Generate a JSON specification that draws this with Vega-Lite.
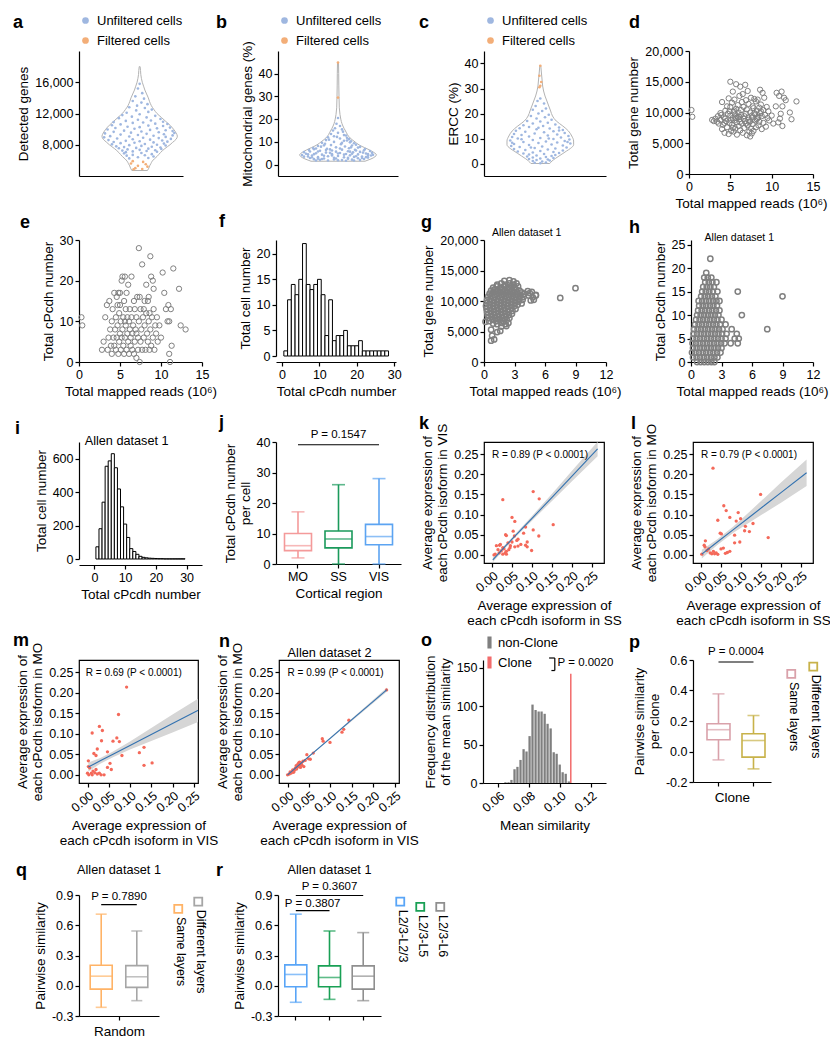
{
"$schema": "https://vega.github.io/schema/vega-lite/v6.json",
"padding": {"left": 12, "top": 14, "right": 0, "bottom": 0},
"background": "white",
"spacing": 3,
"resolve": {"scale": {"color": "independent", "stroke": "independent", "fill": "independent"}, "legend": {"color": "independent", "stroke": "independent"}},
"config": {
 "font": "Liberation Sans",
 "view": {"stroke": null},
 "locale": {"number": {"decimal": ".", "thousands": ",", "grouping": [3], "currency": ["$", ""], "minus": "-"}},
 "axis": {"grid": false, "domainColor": "#000", "tickColor": "#000", "labelColor": "#000", "titleColor": "#000", "labelFontSize": 12.5, "titleFontSize": 13.5, "titleFontWeight": "normal", "tickSize": 4, "domainWidth": 1.2, "tickWidth": 1.2, "labelPadding": 2, "titlePadding": 4, "titleLineHeight": 15, "labelFont": "Liberation Sans", "titleFont": "Liberation Sans", "labelFlush": false, "labelOverlap": false},
 "legend": {"labelFont": "Liberation Sans", "labelFontSize": 13, "labelColor": "#000", "padding": 0},
 "title": {"font": "Liberation Sans", "fontSize": 18, "fontWeight": "bold", "anchor": "start", "frame": "group", "offset": 0, "color": "#000"},
 "text": {"font": "Liberation Sans", "color": "#000"}
},
"datasets": {
 "av": [{"y":4700,"l":-9,"r":9},{"y":5000,"l":-10.5,"r":10.5},{"y":5300,"l":-11.5,"r":11.5},{"y":5600,"l":-13,"r":13},{"y":5900,"l":-14.5,"r":14.5},{"y":6200,"l":-17,"r":17},{"y":6500,"l":-20,"r":20},{"y":7000,"l":-24,"r":24},{"y":7500,"l":-29,"r":29},{"y":8000,"l":-35,"r":35},{"y":8300,"l":-38,"r":38},{"y":8700,"l":-42,"r":42},{"y":9100,"l":-43.5,"r":43.5},{"y":9500,"l":-42,"r":42},{"y":10000,"l":-39,"r":39},{"y":10500,"l":-35,"r":35},{"y":11000,"l":-30,"r":30},{"y":11500,"l":-25,"r":25},{"y":12000,"l":-20,"r":20},{"y":12500,"l":-16.5,"r":16.5},{"y":13000,"l":-13.5,"r":13.5},{"y":13500,"l":-11.5,"r":11.5},{"y":14000,"l":-10,"r":10},{"y":14500,"l":-8,"r":8},{"y":15000,"l":-6,"r":6},{"y":15500,"l":-4.5,"r":4.5},{"y":16000,"l":-3,"r":3},{"y":16500,"l":-2,"r":2},{"y":17000,"l":-1.3,"r":1.3},{"y":17500,"l":-1,"r":1},{"y":18000,"l":-0.5,"r":0.5}],
 "ap": [{"x":0,"y":15800},{"x":-2,"y":15200},{"x":3,"y":14600},{"x":-5,"y":14200},{"x":5,"y":13900},{"x":-8,"y":13600},{"x":2,"y":13400},{"x":9,"y":13200},{"x":-3,"y":13000},{"x":-12,"y":12800},{"x":6,"y":12700},{"x":14,"y":12500},{"x":-4,"y":12400},{"x":10,"y":12200},{"x":-15,"y":12100},{"x":0,"y":11900},{"x":-20,"y":11800},{"x":18,"y":11700},{"x":-9,"y":11600},{"x":8,"y":11500},{"x":-24,"y":11400},{"x":24,"y":11300},{"x":-2,"y":11200},{"x":13,"y":11100},{"x":-16,"y":11050},{"x":27,"y":10950},{"x":-30,"y":10900},{"x":4,"y":10850},{"x":-8,"y":10800},{"x":18,"y":10700},{"x":32,"y":10650},{"x":-22,"y":10600},{"x":-32,"y":10500},{"x":10,"y":10450},{"x":27,"y":10400},{"x":-14,"y":10300},{"x":0,"y":10250},{"x":35,"y":10200},{"x":-28,"y":10150},{"x":20,"y":10100},{"x":-6,"y":10050},{"x":-37,"y":9950},{"x":12,"y":9900},{"x":30,"y":9850},{"x":-18,"y":9800},{"x":38,"y":9750},{"x":2,"y":9700},{"x":-30,"y":9650},{"x":22,"y":9600},{"x":-10,"y":9550},{"x":40,"y":9500},{"x":-40,"y":9450},{"x":8,"y":9400},{"x":28,"y":9350},{"x":-22,"y":9300},{"x":-2,"y":9250},{"x":38,"y":9200},{"x":16,"y":9150},{"x":-34,"y":9100},{"x":-12,"y":9050},{"x":30,"y":9000},{"x":-41,"y":8950},{"x":4,"y":8900},{"x":22,"y":8850},{"x":-26,"y":8800},{"x":36,"y":8750},{"x":-8,"y":8700},{"x":12,"y":8650},{"x":-36,"y":8600},{"x":26,"y":8550},{"x":-16,"y":8500},{"x":0,"y":8450},{"x":32,"y":8400},{"x":-30,"y":8350},{"x":16,"y":8300},{"x":-6,"y":8250},{"x":-22,"y":8200},{"x":28,"y":8150},{"x":6,"y":8100},{"x":-32,"y":8050},{"x":20,"y":8000},{"x":-12,"y":7950},{"x":30,"y":7900},{"x":2,"y":7850},{"x":-27,"y":7800},{"x":14,"y":7750},{"x":-18,"y":7700},{"x":24,"y":7650},{"x":-4,"y":7600},{"x":-24,"y":7550},{"x":10,"y":7500},{"x":25,"y":7450},{"x":-14,"y":7400},{"x":0,"y":7350},{"x":18,"y":7300},{"x":-20,"y":7250},{"x":8,"y":7200},{"x":-8,"y":7150},{"x":20,"y":7100},{"x":-16,"y":7050},{"x":2,"y":6950},{"x":-18,"y":6900},{"x":14,"y":6800},{"x":-8,"y":6700},{"x":6,"y":6650},{"x":-15,"y":6600},{"x":16,"y":6500},{"x":-2,"y":6400},{"x":10,"y":6300},{"x":-12,"y":6250}],
 "af": [{"x":-8,"y":5900},{"x":4,"y":5800},{"x":-10,"y":5600},{"x":7,"y":5500},{"x":-2,"y":5300},{"x":9,"y":5200},{"x":-5,"y":5000},{"x":3,"y":4900},{"x":-7,"y":4850}],
 "bv": [{"y":1.5,"l":-27,"r":27},{"y":2,"l":-30,"r":30},{"y":2.5,"l":-33,"r":33},{"y":3.5,"l":-37,"r":37},{"y":4.3,"l":-38.5,"r":38.5},{"y":5,"l":-37,"r":37},{"y":6,"l":-33.5,"r":33.5},{"y":7,"l":-29,"r":29},{"y":8,"l":-24,"r":24},{"y":9,"l":-20,"r":20},{"y":10,"l":-17,"r":17},{"y":11,"l":-14,"r":14},{"y":12.5,"l":-10.5,"r":10.5},{"y":14,"l":-8.5,"r":8.5},{"y":16,"l":-6,"r":6},{"y":18,"l":-4,"r":4},{"y":20,"l":-2.8,"r":2.8},{"y":22,"l":-2,"r":2},{"y":25,"l":-1.3,"r":1.3},{"y":30,"l":-1,"r":1},{"y":35,"l":-0.8,"r":0.8},{"y":40,"l":-0.7,"r":0.7},{"y":44.9,"l":-0.5,"r":0.5}],
 "bp": [{"x":0,"y":20.5},{"x":-1.5,"y":18},{"x":2,"y":17},{"x":-3,"y":16},{"x":4,"y":15.5},{"x":-5,"y":15},{"x":5,"y":14.5},{"x":0,"y":14},{"x":-7,"y":13.5},{"x":6,"y":13},{"x":8,"y":12.8},{"x":-4,"y":12.5},{"x":-10,"y":12},{"x":9,"y":11.8},{"x":2,"y":11.5},{"x":11,"y":11.2},{"x":-9,"y":11},{"x":-12,"y":10.8},{"x":6,"y":10.5},{"x":13,"y":10.3},{"x":-4,"y":10},{"x":12,"y":9.8},{"x":-16,"y":9.6},{"x":16,"y":9.4},{"x":-13,"y":9.2},{"x":3,"y":9},{"x":18,"y":8.8},{"x":-7,"y":8.6},{"x":14,"y":8.4},{"x":-20,"y":8.2},{"x":7,"y":8},{"x":-17,"y":7.9},{"x":22,"y":7.8},{"x":-2,"y":7.6},{"x":20,"y":7.5},{"x":-25,"y":7.3},{"x":11,"y":7.2},{"x":-11,"y":7},{"x":27,"y":6.9},{"x":-24,"y":6.8},{"x":4,"y":6.6},{"x":17,"y":6.5},{"x":-29,"y":6.4},{"x":26,"y":6.3},{"x":-6,"y":6.2},{"x":-18,"y":6.1},{"x":32,"y":6},{"x":10,"y":5.9},{"x":-28,"y":5.8},{"x":-2,"y":5.7},{"x":22,"y":5.6},{"x":-34,"y":5.5},{"x":15,"y":5.4},{"x":-12,"y":5.3},{"x":34,"y":5.2},{"x":2,"y":5.1},{"x":-22,"y":5},{"x":28,"y":4.9},{"x":-32,"y":4.8},{"x":8,"y":4.7},{"x":-6,"y":4.6},{"x":20,"y":4.5},{"x":-16,"y":4.4},{"x":35,"y":4.3},{"x":-36,"y":4.2},{"x":12,"y":4.1},{"x":-26,"y":4},{"x":30,"y":3.9},{"x":0,"y":3.8},{"x":-10,"y":3.7},{"x":24,"y":3.6},{"x":-34,"y":3.5},{"x":16,"y":3.4},{"x":-20,"y":3.3},{"x":6,"y":3.2},{"x":30,"y":3.1},{"x":-4,"y":3},{"x":-28,"y":2.9},{"x":20,"y":2.8},{"x":-14,"y":2.7},{"x":10,"y":2.6},{"x":26,"y":2.5},{"x":-24,"y":2.4},{"x":-4,"y":2.3},{"x":14,"y":2.2},{"x":-18,"y":2.1},{"x":22,"y":2},{"x":0,"y":1.9},{"x":-10,"y":1.8},{"x":8,"y":1.7},{"x":-30,"y":3.6},{"x":33,"y":4},{"x":-20,"y":5.8},{"x":25,"y":5.3},{"x":-8,"y":6.7},{"x":13,"y":7.6},{"x":-14,"y":8.5},{"x":4,"y":9.6},{"x":-1,"y":12.2},{"x":9,"y":10.6},{"x":-24,"y":4.6},{"x":28,"y":3.3},{"x":-16,"y":2.5},{"x":16,"y":1.8},{"x":-22,"y":1.8},{"x":-8,"y":5.2},{"x":6,"y":4.4},{"x":-14,"y":3.9},{"x":18,"y":3.7},{"x":-2,"y":2.7},{"x":4,"y":2},{"x":-26,"y":3.2},{"x":12,"y":5.7},{"x":-30,"y":4.5},{"x":30,"y":4.6},{"x":-12,"y":6.4},{"x":2,"y":7.1},{"x":-20,"y":2.6},{"x":24,"y":2.9},{"x":10,"y":3},{"x":-6,"y":4},{"x":18,"y":6.2},{"x":-22,"y":7.1},{"x":0,"y":4.9},{"x":14,"y":4.8}],
 "bf": [{"x":0,"y":44.9},{"x":0,"y":29.5}],
 "cv": [{"y":0,"l":-10,"r":10},{"y":1,"l":-12.5,"r":12.5},{"y":2,"l":-16,"r":16},{"y":3,"l":-20,"r":20},{"y":4,"l":-24,"r":24},{"y":5,"l":-28,"r":28},{"y":6,"l":-32,"r":32},{"y":7.5,"l":-35.5,"r":35.5},{"y":9,"l":-35.5,"r":35.5},{"y":11,"l":-33.5,"r":33.5},{"y":13,"l":-30,"r":30},{"y":15,"l":-24,"r":24},{"y":17,"l":-17,"r":17},{"y":19,"l":-13,"r":13},{"y":21,"l":-11,"r":11},{"y":23,"l":-9,"r":9},{"y":25,"l":-7,"r":7},{"y":27,"l":-5,"r":5},{"y":29,"l":-3.5,"r":3.5},{"y":31,"l":-2.5,"r":2.5},{"y":33,"l":-2,"r":2},{"y":35,"l":-1.5,"r":1.5},{"y":37,"l":-1,"r":1},{"y":39.2,"l":-0.5,"r":0.5}],
 "cp": [{"x":0,"y":26},{"x":-3,"y":25},{"x":4,"y":24},{"x":-5,"y":23},{"x":6,"y":22},{"x":-8,"y":21.5},{"x":2,"y":21},{"x":-2,"y":20},{"x":9,"y":19.5},{"x":-10,"y":19},{"x":5,"y":18.5},{"x":-4,"y":18},{"x":12,"y":17.5},{"x":-14,"y":17},{"x":0,"y":16.8},{"x":8,"y":16.3},{"x":-8,"y":16},{"x":16,"y":15.6},{"x":-18,"y":15.3},{"x":3,"y":15},{"x":-12,"y":14.6},{"x":20,"y":14.4},{"x":-22,"y":14.1},{"x":10,"y":14},{"x":-4,"y":13.7},{"x":24,"y":13.4},{"x":-26,"y":13.1},{"x":14,"y":12.9},{"x":-16,"y":12.7},{"x":4,"y":12.5},{"x":26,"y":12.2},{"x":-6,"y":12},{"x":-28,"y":11.8},{"x":18,"y":11.6},{"x":-20,"y":11.4},{"x":8,"y":11.2},{"x":30,"y":11},{"x":-12,"y":10.8},{"x":-30,"y":10.6},{"x":22,"y":10.4},{"x":0,"y":10.2},{"x":-24,"y":10},{"x":14,"y":9.8},{"x":31,"y":9.6},{"x":-8,"y":9.4},{"x":-32,"y":9.2},{"x":26,"y":9},{"x":6,"y":8.8},{"x":-18,"y":8.6},{"x":18,"y":8.4},{"x":-2,"y":8.2},{"x":32,"y":8},{"x":-28,"y":7.8},{"x":12,"y":7.6},{"x":-12,"y":7.4},{"x":24,"y":7.2},{"x":-31,"y":7},{"x":2,"y":6.8},{"x":-22,"y":6.6},{"x":28,"y":6.4},{"x":-6,"y":6.2},{"x":16,"y":6},{"x":-28,"y":5.8},{"x":8,"y":5.6},{"x":-16,"y":5.4},{"x":24,"y":5.2},{"x":0,"y":5},{"x":-24,"y":4.8},{"x":14,"y":4.6},{"x":-8,"y":4.4},{"x":20,"y":4.2},{"x":-18,"y":4},{"x":4,"y":3.8},{"x":-12,"y":3.6},{"x":16,"y":3.4},{"x":-4,"y":3.2},{"x":12,"y":3},{"x":-14,"y":2.8},{"x":6,"y":2.6},{"x":-8,"y":2.4},{"x":14,"y":2.2},{"x":0,"y":2},{"x":-12,"y":1.8},{"x":8,"y":1.6},{"x":-4,"y":1.4},{"x":10,"y":1.2},{"x":-8,"y":1},{"x":2,"y":0.8},{"x":6,"y":0.4},{"x":-6,"y":0.3},{"x":0,"y":0.1},{"x":-20,"y":9.7},{"x":20,"y":13.2},{"x":-10,"y":6.4},{"x":9,"y":10},{"x":-2,"y":14.3},{"x":29,"y":8.6},{"x":-30,"y":8.3}],
 "cf": [{"x":0,"y":39.1},{"x":-1,"y":35.1},{"x":1,"y":32.6},{"x":0,"y":31.1},{"x":-1,"y":30.5}],
 "d": [{"x":0.3,"y":10400},{"x":0.4,"y":9300},{"x":2.8,"y":8800},{"x":3,"y":8600},{"x":3.2,"y":9000},{"x":3.4,"y":8500},{"x":3.5,"y":9400},{"x":3.6,"y":8200},{"x":3.8,"y":8800},{"x":3.9,"y":9600},{"x":4,"y":7300},{"x":4,"y":11700},{"x":4.1,"y":8000},{"x":4.2,"y":9200},{"x":4.3,"y":6700},{"x":4.4,"y":10300},{"x":4.5,"y":8600},{"x":4.6,"y":7600},{"x":4.6,"y":11000},{"x":4.7,"y":9800},{"x":4.8,"y":12300},{"x":4.8,"y":6500},{"x":4.9,"y":8300},{"x":5,"y":15000},{"x":5,"y":9500},{"x":5,"y":10900},{"x":5.1,"y":7000},{"x":5.2,"y":11600},{"x":5.2,"y":8000},{"x":5.3,"y":9100},{"x":5.3,"y":13400},{"x":5.4,"y":10100},{"x":5.4,"y":6900},{"x":5.5,"y":8700},{"x":5.5,"y":12100},{"x":5.6,"y":9700},{"x":5.6,"y":7400},{"x":5.7,"y":14600},{"x":5.7,"y":10600},{"x":5.8,"y":8400},{"x":5.8,"y":6400},{"x":5.9,"y":11200},{"x":5.9,"y":9300},{"x":6,"y":7800},{"x":6,"y":10000},{"x":6.1,"y":12700},{"x":6.1,"y":8900},{"x":6.2,"y":14200},{"x":6.2,"y":7100},{"x":6.3,"y":10400},{"x":6.3,"y":9600},{"x":6.4,"y":11700},{"x":6.4,"y":8200},{"x":6.5,"y":6700},{"x":6.5,"y":13000},{"x":6.6,"y":9000},{"x":6.6,"y":10900},{"x":6.7,"y":7500},{"x":6.8,"y":14500},{"x":6.8,"y":8600},{"x":6.9,"y":12000},{"x":6.9,"y":9800},{"x":7,"y":6300},{"x":7,"y":10500},{"x":7.1,"y":7900},{"x":7.1,"y":13500},{"x":7.2,"y":9200},{"x":7.2,"y":11400},{"x":7.3,"y":6900},{"x":7.3,"y":8400},{"x":7.4,"y":6100},{"x":7.4,"y":10000},{"x":7.5,"y":7400},{"x":7.5,"y":12400},{"x":7.6,"y":9500},{"x":7.6,"y":6600},{"x":7.7,"y":11000},{"x":7.7,"y":8100},{"x":7.8,"y":10700},{"x":7.8,"y":7000},{"x":7.9,"y":12200},{"x":8,"y":9700},{"x":8,"y":8700},{"x":8.1,"y":11800},{"x":8.1,"y":7600},{"x":8.2,"y":10300},{"x":8.3,"y":9100},{"x":8.3,"y":12100},{"x":8.4,"y":7900},{"x":8.5,"y":10800},{"x":8.5,"y":8500},{"x":8.6,"y":13700},{"x":8.6,"y":9900},{"x":8.7,"y":11300},{"x":8.8,"y":7300},{"x":8.8,"y":9400},{"x":8.9,"y":13200},{"x":9,"y":10400},{"x":9,"y":8300},{"x":9.1,"y":12400},{"x":9.2,"y":9600},{"x":9.3,"y":7700},{"x":9.4,"y":10900},{"x":9.5,"y":9100},{"x":9.7,"y":8700},{"x":10,"y":9500},{"x":10.2,"y":8200},{"x":10.5,"y":11000},{"x":10.6,"y":13200},{"x":10.9,"y":12700},{"x":11,"y":9000},{"x":11.2,"y":13400},{"x":11.3,"y":11000},{"x":11.3,"y":7800},{"x":11.5,"y":12400},{"x":11.7,"y":12000},{"x":12.2,"y":10000},{"x":12.4,"y":8900},{"x":13,"y":11800},{"x":10.8,"y":8400},{"x":11.1,"y":9800},{"x":4.4,"y":9000},{"x":5.1,"y":8800},{"x":5.7,"y":9100},{"x":6.2,"y":8500},{"x":6.7,"y":9400},{"x":7.2,"y":8800},{"x":7.7,"y":9200},{"x":8.2,"y":8900},{"x":8.7,"y":10200},{"x":4.9,"y":10200},{"x":5.5,"y":10300},{"x":6.1,"y":9300},{"x":6.9,"y":8200},{"x":7.4,"y":8600},{"x":7.9,"y":9900},{"x":8.4,"y":9300},{"x":9.6,"y":10200},{"x":3.8,"y":9900},{"x":4.3,"y":8300},{"x":5.3,"y":7500}],
 "e": [{"x":0.3,"y":11},{"x":0.4,"y":9},{"x":2.8,"y":3},{"x":3,"y":5},{"x":3.2,"y":11},{"x":3.4,"y":14},{"x":3.5,"y":3},{"x":3.6,"y":6},{"x":3.7,"y":15},{"x":3.8,"y":8},{"x":3.9,"y":4},{"x":4,"y":10},{"x":4,"y":2},{"x":4.1,"y":13},{"x":4.2,"y":6},{"x":4.3,"y":17},{"x":4.3,"y":4},{"x":4.4,"y":8},{"x":4.5,"y":11},{"x":4.5,"y":3},{"x":4.6,"y":16},{"x":4.6,"y":6},{"x":4.7,"y":9},{"x":4.8,"y":17},{"x":4.8,"y":2},{"x":4.9,"y":5},{"x":4.9,"y":12},{"x":5,"y":7},{"x":5,"y":14},{"x":5.1,"y":10},{"x":5.1,"y":3},{"x":5.2,"y":20},{"x":5.2,"y":6},{"x":5.3,"y":21},{"x":5.3,"y":8},{"x":5.4,"y":4},{"x":5.4,"y":11},{"x":5.5,"y":15},{"x":5.5,"y":2},{"x":5.6,"y":21},{"x":5.6,"y":6},{"x":5.7,"y":9},{"x":5.7,"y":13},{"x":5.8,"y":3},{"x":5.8,"y":17},{"x":5.9,"y":7},{"x":5.9,"y":11},{"x":6,"y":19},{"x":6,"y":5},{"x":6.1,"y":2},{"x":6.1,"y":10},{"x":6.2,"y":8},{"x":6.2,"y":13},{"x":6.3,"y":4},{"x":6.3,"y":6},{"x":6.4,"y":11},{"x":6.5,"y":3},{"x":6.5,"y":7},{"x":6.6,"y":9},{"x":6.7,"y":2},{"x":6.7,"y":15},{"x":6.8,"y":5},{"x":6.8,"y":13},{"x":6.9,"y":8},{"x":7,"y":1},{"x":7,"y":11},{"x":7.1,"y":16},{"x":7.2,"y":6},{"x":7.2,"y":3},{"x":7.3,"y":28},{"x":7.3,"y":10},{"x":7.4,"y":0},{"x":7.4,"y":16},{"x":7.5,"y":13},{"x":7.5,"y":5},{"x":7.6,"y":8},{"x":7.7,"y":24},{"x":7.7,"y":3},{"x":7.8,"y":11},{"x":7.9,"y":6},{"x":8,"y":15},{"x":8,"y":9},{"x":8.1,"y":3},{"x":8.2,"y":19},{"x":8.2,"y":12},{"x":8.3,"y":7},{"x":8.4,"y":15},{"x":8.4,"y":5},{"x":8.5,"y":10},{"x":8.6,"y":12},{"x":8.6,"y":3},{"x":8.7,"y":26},{"x":8.7,"y":8},{"x":8.8,"y":21},{"x":8.8,"y":4},{"x":8.9,"y":11},{"x":9,"y":20},{"x":9,"y":6},{"x":9.1,"y":13},{"x":9.1,"y":18},{"x":9.2,"y":3},{"x":9.3,"y":9},{"x":9.4,"y":7},{"x":9.5,"y":11},{"x":9.6,"y":5},{"x":9.8,"y":9},{"x":10,"y":6},{"x":10.2,"y":22},{"x":10.4,"y":17},{"x":10.6,"y":13},{"x":10.9,"y":14},{"x":11,"y":10},{"x":11,"y":2},{"x":11.1,"y":0},{"x":11.2,"y":13},{"x":11.3,"y":4},{"x":11.5,"y":23},{"x":12.2,"y":18},{"x":12.4,"y":9},{"x":13,"y":8},{"x":10.8,"y":10},{"x":5,"y":17},{"x":4.7,"y":14},{"x":5.6,"y":10},{"x":6.4,"y":21},{"x":7,"y":7},{"x":7.9,"y":13},{"x":8.5,"y":16}],
 "f": [{"a":0.5,"b":1.5,"n":1},{"a":1.5,"b":2.5,"n":11},{"a":2.5,"b":3.5,"n":14},{"a":3.5,"b":4.5,"n":12},{"a":4.5,"b":5.5,"n":15},{"a":5.5,"b":6.5,"n":22},{"a":6.5,"b":7.5,"n":14},{"a":7.5,"b":8.5,"n":13},{"a":8.5,"b":9.5,"n":14},{"a":9.5,"b":10.5,"n":15},{"a":10.5,"b":11.5,"n":12},{"a":11.5,"b":12.5,"n":4},{"a":12.5,"b":13.5,"n":11},{"a":13.5,"b":14.5,"n":3},{"a":14.5,"b":15.5,"n":4},{"a":15.5,"b":16.5,"n":4},{"a":16.5,"b":17.5,"n":5},{"a":17.5,"b":18.5,"n":2},{"a":18.5,"b":19.5,"n":2},{"a":19.5,"b":20.5,"n":2},{"a":20.5,"b":21.5,"n":3},{"a":21.5,"b":22.5,"n":1},{"a":22.5,"b":23.5,"n":1},{"a":23.5,"b":24.5,"n":1},{"a":24.5,"b":25.5,"n":1},{"a":25.5,"b":26.5,"n":1},{"a":26.5,"b":27.5,"n":1},{"a":27.5,"b":28.5,"n":1}],
 "g": [{"x":2,"y":13300},{"x":2.5,"y":13400},{"x":2.9,"y":13200},{"x":1.3,"y":12700},{"x":1.7,"y":12900},{"x":2.1,"y":12700},{"x":2.5,"y":12900},{"x":2.9,"y":12700},{"x":3.2,"y":12900},{"x":0.9,"y":12200},{"x":1.25,"y":12400},{"x":1.6,"y":12200},{"x":1.95,"y":12400},{"x":2.3,"y":12200},{"x":2.65,"y":12400},{"x":3,"y":12200},{"x":3.35,"y":12400},{"x":0.7,"y":11700},{"x":1.05,"y":11900},{"x":1.4,"y":11700},{"x":1.75,"y":11900},{"x":2.1,"y":11700},{"x":2.45,"y":11900},{"x":2.8,"y":11700},{"x":3.15,"y":11900},{"x":3.5,"y":11700},{"x":4.3,"y":11600},{"x":4.7,"y":11500},{"x":0.55,"y":11200},{"x":0.9,"y":11400},{"x":1.25,"y":11200},{"x":1.6,"y":11400},{"x":1.95,"y":11200},{"x":2.3,"y":11400},{"x":2.65,"y":11200},{"x":3,"y":11400},{"x":3.35,"y":11200},{"x":3.7,"y":11400},{"x":4,"y":11200},{"x":4.5,"y":11300},{"x":5.1,"y":10900},{"x":0.4,"y":10700},{"x":0.75,"y":10900},{"x":1.1,"y":10700},{"x":1.45,"y":10900},{"x":1.8,"y":10700},{"x":2.15,"y":10900},{"x":2.5,"y":10700},{"x":2.85,"y":10900},{"x":3.2,"y":10700},{"x":3.55,"y":10900},{"x":3.9,"y":10700},{"x":4.4,"y":10900},{"x":4.8,"y":10600},{"x":0.3,"y":10200},{"x":0.65,"y":10400},{"x":1,"y":10200},{"x":1.35,"y":10400},{"x":1.7,"y":10200},{"x":2.05,"y":10400},{"x":2.4,"y":10200},{"x":2.75,"y":10400},{"x":3.1,"y":10200},{"x":3.45,"y":10400},{"x":3.8,"y":10200},{"x":4.6,"y":10100},{"x":0.25,"y":9700},{"x":0.6,"y":9900},{"x":0.95,"y":9700},{"x":1.3,"y":9900},{"x":1.65,"y":9700},{"x":2,"y":9900},{"x":2.35,"y":9700},{"x":2.7,"y":9900},{"x":3.05,"y":9700},{"x":3.4,"y":9900},{"x":3.7,"y":9600},{"x":0.2,"y":9200},{"x":0.55,"y":9400},{"x":0.9,"y":9200},{"x":1.25,"y":9400},{"x":1.6,"y":9200},{"x":1.95,"y":9400},{"x":2.3,"y":9200},{"x":2.65,"y":9400},{"x":3,"y":9200},{"x":3.3,"y":9400},{"x":0.25,"y":8700},{"x":0.6,"y":8900},{"x":0.95,"y":8700},{"x":1.3,"y":8900},{"x":1.65,"y":8700},{"x":2,"y":8900},{"x":2.35,"y":8700},{"x":2.7,"y":8900},{"x":3.1,"y":8700},{"x":0.3,"y":8200},{"x":0.65,"y":8400},{"x":1,"y":8200},{"x":1.35,"y":8400},{"x":1.7,"y":8200},{"x":2.05,"y":8400},{"x":2.4,"y":8200},{"x":2.8,"y":8400},{"x":0.35,"y":7700},{"x":0.7,"y":7900},{"x":1.05,"y":7700},{"x":1.4,"y":7900},{"x":1.75,"y":7700},{"x":2.1,"y":7900},{"x":2.45,"y":7700},{"x":2.75,"y":7900},{"x":0.4,"y":7200},{"x":0.75,"y":7400},{"x":1.1,"y":7200},{"x":1.45,"y":7400},{"x":1.8,"y":7200},{"x":2.15,"y":7400},{"x":2.5,"y":7200},{"x":0.5,"y":6700},{"x":0.85,"y":6900},{"x":1.2,"y":6700},{"x":1.55,"y":6900},{"x":1.9,"y":6700},{"x":2.25,"y":6900},{"x":0.9,"y":6300},{"x":1.3,"y":6200},{"x":1.7,"y":6400},{"x":2.1,"y":6200},{"x":2.4,"y":6400},{"x":1.7,"y":5800},{"x":2.2,"y":5900},{"x":0.7,"y":5300},{"x":0.8,"y":4300},{"x":0.7,"y":3500},{"x":1,"y":3700},{"x":1.3,"y":4900},{"x":1.6,"y":5100},{"x":0.15,"y":6600},{"x":7.5,"y":10500},{"x":9,"y":12100},{"x":4.9,"y":10200},{"x":5.1,"y":11000}],
 "h": [{"x":0.6,"y":0},{"x":0.95,"y":0},{"x":1.3,"y":0},{"x":1.65,"y":0},{"x":2,"y":0},{"x":2.3,"y":0},{"x":0.2,"y":1},{"x":0.55,"y":1},{"x":0.9,"y":1},{"x":1.25,"y":1},{"x":1.6,"y":1},{"x":1.95,"y":1},{"x":2.3,"y":1},{"x":2.6,"y":1},{"x":0.1,"y":2},{"x":0.45,"y":2},{"x":0.8,"y":2},{"x":1.15,"y":2},{"x":1.5,"y":2},{"x":1.85,"y":2},{"x":2.2,"y":2},{"x":2.55,"y":2},{"x":2.9,"y":2},{"x":0.2,"y":3},{"x":0.55,"y":3},{"x":0.9,"y":3},{"x":1.25,"y":3},{"x":1.6,"y":3},{"x":1.95,"y":3},{"x":2.3,"y":3},{"x":2.65,"y":3},{"x":3,"y":3},{"x":0.15,"y":4},{"x":0.5,"y":4},{"x":0.85,"y":4},{"x":1.2,"y":4},{"x":1.55,"y":4},{"x":1.9,"y":4},{"x":2.25,"y":4},{"x":2.6,"y":4},{"x":2.95,"y":4},{"x":3.3,"y":4},{"x":3.9,"y":4},{"x":4.6,"y":4},{"x":0.2,"y":5},{"x":0.55,"y":5},{"x":0.9,"y":5},{"x":1.25,"y":5},{"x":1.6,"y":5},{"x":1.95,"y":5},{"x":2.3,"y":5},{"x":2.65,"y":5},{"x":3,"y":5},{"x":3.4,"y":5},{"x":4.3,"y":5},{"x":4.7,"y":5},{"x":0.25,"y":6},{"x":0.6,"y":6},{"x":0.95,"y":6},{"x":1.3,"y":6},{"x":1.65,"y":6},{"x":2,"y":6},{"x":2.35,"y":6},{"x":2.7,"y":6},{"x":3.05,"y":6},{"x":3.5,"y":6},{"x":4.5,"y":6},{"x":0.3,"y":7},{"x":0.65,"y":7},{"x":1,"y":7},{"x":1.35,"y":7},{"x":1.7,"y":7},{"x":2.05,"y":7},{"x":2.4,"y":7},{"x":2.75,"y":7},{"x":3.1,"y":7},{"x":4,"y":7},{"x":0.4,"y":8},{"x":0.75,"y":8},{"x":1.1,"y":8},{"x":1.45,"y":8},{"x":1.8,"y":8},{"x":2.15,"y":8},{"x":2.5,"y":8},{"x":2.85,"y":8},{"x":3.4,"y":8},{"x":0.5,"y":9},{"x":0.85,"y":9},{"x":1.2,"y":9},{"x":1.55,"y":9},{"x":1.9,"y":9},{"x":2.25,"y":9},{"x":2.6,"y":9},{"x":3,"y":9},{"x":0.6,"y":10},{"x":0.95,"y":10},{"x":1.3,"y":10},{"x":1.65,"y":10},{"x":2,"y":10},{"x":2.35,"y":10},{"x":2.7,"y":10},{"x":5,"y":10},{"x":0.7,"y":11},{"x":1.05,"y":11},{"x":1.4,"y":11},{"x":1.75,"y":11},{"x":2.1,"y":11},{"x":2.45,"y":11},{"x":2.8,"y":11},{"x":0.8,"y":12},{"x":1.15,"y":12},{"x":1.5,"y":12},{"x":1.85,"y":12},{"x":2.2,"y":12},{"x":2.55,"y":12},{"x":0.75,"y":13},{"x":1.1,"y":13},{"x":1.45,"y":13},{"x":1.8,"y":13},{"x":2.15,"y":13},{"x":2.5,"y":13},{"x":2.8,"y":13},{"x":1,"y":14},{"x":1.35,"y":14},{"x":1.7,"y":14},{"x":2.05,"y":14},{"x":2.4,"y":14},{"x":1.1,"y":15},{"x":1.45,"y":15},{"x":1.8,"y":15},{"x":2.15,"y":15},{"x":2.6,"y":15},{"x":4.6,"y":15},{"x":1.2,"y":16},{"x":1.55,"y":16},{"x":1.9,"y":16},{"x":2.25,"y":16},{"x":1.4,"y":17},{"x":1.75,"y":17},{"x":2.1,"y":17},{"x":2.5,"y":17},{"x":1.3,"y":18},{"x":1.65,"y":18},{"x":2,"y":18},{"x":1.5,"y":19},{"x":1.9,"y":22},{"x":7.5,"y":7},{"x":9,"y":14}],
 "i": [{"a":0.5,"b":1.5,"n":73},{"a":1.5,"b":2.5,"n":181},{"a":2.5,"b":3.5,"n":340},{"a":3.5,"b":4.5,"n":555},{"a":4.5,"b":5.5,"n":587},{"a":5.5,"b":6.5,"n":630},{"a":6.5,"b":7.5,"n":546},{"a":7.5,"b":8.5,"n":419},{"a":8.5,"b":9.5,"n":312},{"a":9.5,"b":10.5,"n":209},{"a":10.5,"b":11.5,"n":129},{"a":11.5,"b":12.5,"n":62},{"a":12.5,"b":13.5,"n":45},{"a":13.5,"b":14.5,"n":28},{"a":14.5,"b":15.5,"n":16},{"a":15.5,"b":16.5,"n":10},{"a":16.5,"b":17.5,"n":7},{"a":17.5,"b":18.5,"n":5},{"a":18.5,"b":19.5,"n":4},{"a":19.5,"b":20.5,"n":3},{"a":20.5,"b":21.5,"n":2},{"a":21.5,"b":22.5,"n":2},{"a":22.5,"b":23.5,"n":1},{"a":23.5,"b":24.5,"n":1},{"a":24.5,"b":25.5,"n":1},{"a":25.5,"b":26.5,"n":1},{"a":26.5,"b":27.5,"n":1},{"a":27.5,"b":28.5,"n":1},{"a":28.5,"b":29.5,"n":1}],
 "j": [{"c":"MO","lo":2,"q1":4.4,"md":6,"q3":10,"hi":17.1},{"c":"SS","lo":0,"q1":5.3,"md":8.2,"q3":10.8,"hi":26},{"c":"VIS","lo":0,"q1":6.3,"md":9,"q3":13,"hi":28}],
 "k": [{"x":0.103,"y":0.157},{"x":0.118,"y":0.139},{"x":0.027,"y":0.137},{"x":0.153,"y":0.075},{"x":0.05,"y":0.093},{"x":0.057,"y":0.083},{"x":0.034,"y":0.05},{"x":0.036,"y":0.048},{"x":0.053,"y":0.059},{"x":0.084,"y":0.069},{"x":0.103,"y":0.062},{"x":0.117,"y":0.047},{"x":0.079,"y":0.054},{"x":0.065,"y":0.039},{"x":0.062,"y":0.036},{"x":0.088,"y":0.032},{"x":0.084,"y":0.024},{"x":0.088,"y":0.02},{"x":0.099,"y":0.011},{"x":0.072,"y":0.026},{"x":0.05,"y":0.032},{"x":0.046,"y":0.023},{"x":0.057,"y":0.02},{"x":0.065,"y":0.022},{"x":0.011,"y":0.023},{"x":0.019,"y":0.024},{"x":0.021,"y":0.026},{"x":0.027,"y":0.018},{"x":0.015,"y":0.013},{"x":0.008,"y":0.002},{"x":0.036,"y":0.009},{"x":0.033,"y":0.005},{"x":0.023,"y":0.01},{"x":0.042,"y":0.013},{"x":0.056,"y":0.047},{"x":0.036,"y":0.002},{"x":0.027,"y":0.002},{"x":0.005,"y":0},{"x":0.018,"y":0.005},{"x":0.03,"y":0.015},{"x":0.04,"y":0.03},{"x":0.045,"y":0.018}],
 "kr": [{"x":0.002,"y":-0.0124,"lo":-0.0184,"hi":-0.0064},{"x":0.03,"y":0.018,"lo":0.0135,"hi":0.0225},{"x":0.05,"y":0.039,"lo":0.035,"hi":0.043},{"x":0.1,"y":0.0905,"lo":0.0845,"hi":0.0965},{"x":0.15,"y":0.143,"lo":0.134,"hi":0.152},{"x":0.2,"y":0.1955,"lo":0.1825,"hi":0.2085},{"x":0.264,"y":0.2627,"lo":0.2447,"hi":0.2807}],
 "l": [{"x":0.03,"y":0.215},{"x":0.149,"y":0.15},{"x":0.057,"y":0.122},{"x":0.063,"y":0.11},{"x":0.093,"y":0.105},{"x":0.042,"y":0.086},{"x":0.072,"y":0.093},{"x":0.099,"y":0.09},{"x":0.088,"y":0.084},{"x":0.13,"y":0.078},{"x":0.111,"y":0.071},{"x":0.109,"y":0.06},{"x":0.121,"y":0.058},{"x":0.048,"y":0.054},{"x":0.051,"y":0.052},{"x":0.084,"y":0.049},{"x":0.097,"y":0.032},{"x":0.084,"y":0.03},{"x":0.168,"y":0.043},{"x":0.056,"y":0.017},{"x":0.05,"y":0.015},{"x":0.066,"y":0.006},{"x":0.072,"y":0.009},{"x":0.061,"y":0.004},{"x":0.011,"y":0.035},{"x":0.008,"y":0.024},{"x":0.01,"y":0.02},{"x":0.015,"y":0.011},{"x":0.019,"y":0.015},{"x":0.023,"y":0.005},{"x":0.027,"y":0.003},{"x":0.031,"y":0.009},{"x":0.034,"y":0.003},{"x":0.038,"y":0.005},{"x":0.002,"y":0.002},{"x":0.042,"y":0.0015}],
 "lr": [{"x":0.002,"y":0.002,"lo":-0.009,"hi":0.013},{"x":0.04,"y":0.0313,"lo":0.0243,"hi":0.0383},{"x":0.08,"y":0.0621,"lo":0.0541,"hi":0.0701},{"x":0.12,"y":0.0929,"lo":0.0799,"hi":0.1059},{"x":0.16,"y":0.1237,"lo":0.1047,"hi":0.1427},{"x":0.2,"y":0.1545,"lo":0.1295,"hi":0.1795},{"x":0.264,"y":0.2038,"lo":0.1708,"hi":0.2368}],
 "m": [{"x":0.092,"y":0.214},{"x":0.073,"y":0.147},{"x":0.028,"y":0.118},{"x":0.011,"y":0.102},{"x":0.035,"y":0.108},{"x":0.069,"y":0.09},{"x":0.06,"y":0.082},{"x":0.075,"y":0.081},{"x":0.033,"y":0.083},{"x":0.023,"y":0.063},{"x":0.015,"y":0.052},{"x":0.02,"y":0.047},{"x":0.047,"y":0.056},{"x":0.081,"y":0.047},{"x":0.122,"y":0.054},{"x":0.133,"y":0.067},{"x":0.133,"y":0.023},{"x":0.152,"y":0.029},{"x":0.053,"y":0.028},{"x":0.047,"y":0.018},{"x":0.056,"y":0.013},{"x":0.002,"y":0.034},{"x":0.002,"y":0.02},{"x":0.005,"y":0.017},{"x":0,"y":0.004},{"x":0.009,"y":0.004},{"x":0.017,"y":0.005},{"x":0.023,"y":0.002},{"x":0.028,"y":0.004},{"x":0.032,"y":0},{"x":0.039,"y":0},{"x":0.013,"y":0.009},{"x":0.02,"y":0.013},{"x":0.003,"y":0},{"x":0.011,"y":0}],
 "mr": [{"x":0.002,"y":0.0191,"lo":0.0081,"hi":0.0301},{"x":0.03,"y":0.034,"lo":0.027,"hi":0.041},{"x":0.06,"y":0.0501,"lo":0.0431,"hi":0.0571},{"x":0.1,"y":0.0715,"lo":0.0615,"hi":0.0815},{"x":0.15,"y":0.0983,"lo":0.0823,"hi":0.1143},{"x":0.2,"y":0.125,"lo":0.103,"hi":0.147},{"x":0.264,"y":0.1592,"lo":0.1302,"hi":0.1882}],
 "n": [{"x":0,"y":0},{"x":0.004,"y":0.002},{"x":0.008,"y":0.004},{"x":0.011,"y":0.007},{"x":0.015,"y":0.009},{"x":0.017,"y":0.013},{"x":0.021,"y":0.014},{"x":0.023,"y":0.019},{"x":0.026,"y":0.02},{"x":0.029,"y":0.024},{"x":0.032,"y":0.028},{"x":0.034,"y":0.023},{"x":0.026,"y":0.029},{"x":0.036,"y":0.033},{"x":0.041,"y":0.035},{"x":0.038,"y":0.02},{"x":0.045,"y":0.049},{"x":0.049,"y":0.039},{"x":0.053,"y":0.038},{"x":0.06,"y":0.053},{"x":0.081,"y":0.088},{"x":0.083,"y":0.082},{"x":0.099,"y":0.079},{"x":0.127,"y":0.104},{"x":0.131,"y":0.111},{"x":0.143,"y":0.133},{"x":0.231,"y":0.207},{"x":0.012,"y":0.012},{"x":0.018,"y":0.016},{"x":0.02,"y":0.022},{"x":0.028,"y":0.031},{"x":0.03,"y":0.018},{"x":0.024,"y":0.026},{"x":0.014,"y":0.006},{"x":0.006,"y":0.007}],
 "nr": [{"x":0,"y":0,"lo":-0.002,"hi":0.002},{"x":0.05,"y":0.0448,"lo":0.0433,"hi":0.0463},{"x":0.1,"y":0.0896,"lo":0.0876,"hi":0.0916},{"x":0.15,"y":0.1344,"lo":0.1314,"hi":0.1374},{"x":0.2,"y":0.1792,"lo":0.1752,"hi":0.1832},{"x":0.232,"y":0.2079,"lo":0.2029,"hi":0.2129}],
 "o": [{"x":0.0646,"n":1},{"x":0.0666,"n":1},{"x":0.0685,"n":4},{"x":0.0705,"n":18},{"x":0.0724,"n":21},{"x":0.0744,"n":30},{"x":0.0764,"n":44},{"x":0.0783,"n":41},{"x":0.0803,"n":61},{"x":0.0822,"n":102},{"x":0.0842,"n":95},{"x":0.0862,"n":93},{"x":0.0881,"n":93},{"x":0.0901,"n":90},{"x":0.092,"n":77},{"x":0.094,"n":71},{"x":0.096,"n":40},{"x":0.0979,"n":38},{"x":0.0999,"n":24},{"x":0.1018,"n":14},{"x":0.1038,"n":12},{"x":0.1058,"n":2}],
 "p": [{"c":"Same layers","lo":-0.055,"q1":0.077,"md":0.143,"q3":0.182,"hi":0.378},{"c":"Different layers","lo":-0.114,"q1":-0.037,"md":0.072,"q3":0.116,"hi":0.236}],
 "q": [{"c":"Same layers","lo":-0.214,"q1":-0.033,"md":0.095,"q3":0.204,"hi":0.71},{"c":"Different layers","lo":-0.148,"q1":-0.016,"md":0.089,"q3":0.2,"hi":0.543}],
 "r": [{"c":"L2/3-L2/3","lo":-0.164,"q1":-0.01,"md":0.112,"q3":0.207,"hi":0.71},{"c":"L2/3-L5","lo":-0.135,"q1":-0.01,"md":0.082,"q3":0.197,"hi":0.543},{"c":"L2/3-L6","lo":-0.148,"q1":-0.033,"md":0.095,"q3":0.197,"hi":0.527}]
},
"vconcat": [
 {"hconcat": [
  {"width":104,"height":125,"title":{"text":"a","dx":-66,"offset":-18},
   "layer":[
    {"data":{"name":"av"},"mark":{"type":"area","orient":"horizontal","interpolate":"monotone","fill":"white","stroke":"#b3b3b3","strokeWidth":1},
     "encoding":{"y":{"field":"y","type":"quantitative","scale":{"domain":[4100,18800]},"axis":{"values":[8000,12000,16000],"tickCount":20,"format":",d","title":"Detected genes"}},"x":{"field":"l","type":"quantitative","scale":{"domain":[-62,42]},"axis":{"labels":false,"ticks":false,"title":null}},"x2":{"field":"r"}}},
    {"data":{"name":"ap"},"mark":{"type":"circle","size":7,"opacity":1},"encoding":{"x":{"field":"x","type":"quantitative"},"y":{"field":"y","type":"quantitative"},"color":{"datum":"Unfiltered cells","scale":{"domain":["Unfiltered cells","Filtered cells"],"range":["#9fb7e0","#f3ae78"]},"legend":{"orient":"top","direction":"vertical","title":null,"offset":3,"padding":0,"symbolType":"circle","symbolSize":45,"labelFontSize":13,"rowPadding":6,"labelOffset":5}}}},
    {"data":{"name":"af"},"mark":{"type":"circle","size":7,"opacity":1},"encoding":{"x":{"field":"x","type":"quantitative"},"y":{"field":"y","type":"quantitative"},"color":{"datum":"Filtered cells"}}}
   ]},
  {"width":95,"height":1,"data":{"values":[]},"mark":"point"},
  {"width":120,"height":125,"title":{"text":"b","dx":-62,"offset":-18},
   "layer":[
    {"data":{"name":"bv"},"mark":{"type":"area","orient":"horizontal","interpolate":"monotone","fill":"white","stroke":"#b3b3b3","strokeWidth":1},
     "encoding":{"y":{"field":"y","type":"quantitative","scale":{"domain":[-0.6,46.7]},"axis":{"values":[0,10,20,30,40],"tickCount":20,"title":"Mitochondrial genes (%)"}},"x":{"field":"l","type":"quantitative","scale":{"domain":[-60,60]},"axis":{"labels":false,"ticks":false,"title":null}},"x2":{"field":"r"}}},
    {"data":{"name":"bp"},"mark":{"type":"circle","size":7,"opacity":1},"encoding":{"x":{"field":"x","type":"quantitative"},"y":{"field":"y","type":"quantitative"},"color":{"datum":"Unfiltered cells","scale":{"domain":["Unfiltered cells","Filtered cells"],"range":["#9fb7e0","#f3ae78"]},"legend":{"orient":"top","direction":"vertical","title":null,"offset":3,"padding":0,"symbolType":"circle","symbolSize":45,"labelFontSize":13,"rowPadding":6,"labelOffset":5}}}},
    {"data":{"name":"bf"},"mark":{"type":"circle","size":7,"opacity":1},"encoding":{"x":{"field":"x","type":"quantitative"},"y":{"field":"y","type":"quantitative"},"color":{"datum":"Filtered cells"}}}
   ]},
  {"width":86,"height":1,"data":{"values":[]},"mark":"point"},
  {"width":122,"height":125,"title":{"text":"c","dx":-65,"offset":-18},
   "layer":[
    {"data":{"name":"cv"},"mark":{"type":"area","orient":"horizontal","interpolate":"monotone","fill":"white","stroke":"#b3b3b3","strokeWidth":1},
     "encoding":{"y":{"field":"y","type":"quantitative","scale":{"domain":[-2.05,40.6]},"axis":{"values":[0,10,20,30,40],"tickCount":20,"title":"ERCC (%)"}},"x":{"field":"l","type":"quantitative","scale":{"domain":[-59,63]},"axis":{"labels":false,"ticks":false,"title":null}},"x2":{"field":"r"}}},
    {"data":{"name":"cp"},"mark":{"type":"circle","size":7,"opacity":1},"encoding":{"x":{"field":"x","type":"quantitative"},"y":{"field":"y","type":"quantitative"},"color":{"datum":"Unfiltered cells","scale":{"domain":["Unfiltered cells","Filtered cells"],"range":["#9fb7e0","#f3ae78"]},"legend":{"orient":"top","direction":"vertical","title":null,"offset":3,"padding":0,"symbolType":"circle","symbolSize":45,"labelFontSize":13,"rowPadding":6,"labelOffset":5}}}},
    {"data":{"name":"cf"},"mark":{"type":"circle","size":7,"opacity":1},"encoding":{"x":{"field":"x","type":"quantitative"},"y":{"field":"y","type":"quantitative"},"color":{"datum":"Filtered cells"}}}
   ]},
  {"width":83,"height":1,"data":{"values":[]},"mark":"point"},
  {"width":124,"height":123,"title":{"text":"d","dx":-60,"offset":13},
   "data":{"name":"d"},
   "mark":{"type":"point","filled":false,"color":"#808080","size":28,"strokeWidth":1,"opacity":1},
   "encoding":{"x":{"field":"x","type":"quantitative","scale":{"domain":[0,15]},"axis":{"values":[0,5,10,15],"tickCount":20,"title":"Total mapped reads (10⁶)"}},"y":{"field":"y","type":"quantitative","scale":{"domain":[0,20000]},"axis":{"values":[0,5000,10000,15000,20000],"tickCount":20,"format":",d","title":"Total gene number"}}}}
 ], "spacing": 0, "bounds": "flush", "resolve": {"scale": {"color": "independent"}, "legend": {"color": "independent"}}},
 {"hconcat": [
  {"width":123,"height":122,"title":{"text":"e","dx":-59,"offset":2},
   "data":{"name":"e"},
   "mark":{"type":"point","filled":false,"color":"#808080","size":28,"strokeWidth":1,"opacity":1},
   "encoding":{"x":{"field":"x","type":"quantitative","scale":{"domain":[0,15]},"axis":{"values":[0,5,10,15],"tickCount":20,"title":"Total mapped reads (10⁶)"}},"y":{"field":"y","type":"quantitative","scale":{"domain":[0,30]},"axis":{"values":[0,10,20,30],"tickCount":20,"title":"Total cPcdh number"}}}},
  {"width":74,"height":1,"data":{"values":[]},"mark":"point"},
  {"width":120,"height":116,"title":{"text":"f","dx":-57,"offset":9},
   "data":{"name":"f"},
   "mark":{"type":"rect","fill":"white","stroke":"#000","strokeWidth":1},
   "encoding":{"x":{"field":"a","type":"quantitative","scale":{"domain":[-1.6,30.5]},"axis":{"values":[0,10,20,30],"tickCount":20,"offset":6,"title":"Total cPcdh number"}},"x2":{"field":"b"},"y":{"field":"n","type":"quantitative","scale":{"domain":[0,22.7]},"axis":{"values":[0,5,10,15,20],"tickCount":20,"title":"Total cell number"}},"y2":{"datum":0}}},
  {"width":88,"height":1,"data":{"values":[]},"mark":"point"},
  {"width":122,"height":122,"title":{"text":"g","dx":-63,"offset":-4},
   "layer":[
    {"data":{"name":"g"},"mark":{"type":"point","filled":false,"color":"#808080","size":28,"strokeWidth":1.5,"opacity":1},
     "encoding":{"x":{"field":"x","type":"quantitative","scale":{"domain":[0,12]},"axis":{"values":[0,3,6,9,12],"tickCount":20,"format":"d","title":"Total mapped reads (10⁶)"}},"y":{"field":"y","type":"quantitative","scale":{"domain":[0,20000]},"axis":{"values":[0,5000,10000,15000,20000],"tickCount":20,"format":",d","title":"Total gene number"}}}},
    {"data":{"values":[{}]},"mark":{"type":"text","fontSize":10.5,"baseline":"bottom"},"encoding":{"x":{"datum":4.2},"y":{"datum":20350},"text":{"value":"Allen dataset 1"}}}
   ]},
  {"width":85,"height":1,"data":{"values":[]},"mark":"point"},
  {"width":122,"height":122,"title":{"text":"h","dx":-62,"offset":-4},
   "layer":[
    {"data":{"name":"h"},"mark":{"type":"point","filled":false,"color":"#808080","size":28,"strokeWidth":1.5,"opacity":1},
     "encoding":{"x":{"field":"x","type":"quantitative","scale":{"domain":[0,12]},"axis":{"values":[0,3,6,9,12],"tickCount":20,"format":"d","title":"Total mapped reads (10⁶)"}},"y":{"field":"y","type":"quantitative","scale":{"domain":[0,25]},"axis":{"values":[0,5,10,15,20,25],"tickCount":20,"format":"d","title":"Total cPcdh number"}}}},
    {"data":{"values":[{}]},"mark":{"type":"text","fontSize":10.5,"baseline":"bottom"},"encoding":{"x":{"datum":4.75},"y":{"datum":25.4},"text":{"value":"Allen dataset 1"}}}
   ]}
 ], "spacing": 0, "bounds": "flush", "resolve": {"scale": {"color": "independent"}, "legend": {"color": "independent"}}},
 {"hconcat": [
  {"width":123,"height":117,"title":{"text":["","i"],"lineHeight":13,"dx":-64,"offset":-3},
   "layer":[
    {"data":{"name":"i"},"mark":{"type":"rect","fill":"white","stroke":"#000","strokeWidth":1},
     "encoding":{"x":{"field":"a","type":"quantitative","scale":{"domain":[-1.58,30.8]},"axis":{"values":[0,10,20,30],"tickCount":20,"offset":6,"title":"Total cPcdh number"}},"x2":{"field":"b"},"y":{"field":"n","type":"quantitative","scale":{"domain":[0,657]},"axis":{"values":[0,200,400,600],"tickCount":20,"title":"Total cell number"}},"y2":{"datum":0}}},
    {"data":{"values":[{}]},"mark":{"type":"text","fontSize":12.7,"baseline":"bottom"},"encoding":{"x":{"datum":10.5},"y":{"datum":662},"text":{"value":"Allen dataset 1"}}}
   ]},
  {"width":74,"height":1,"data":{"values":[]},"mark":"point"},
  {"width":125,"height":122,"title":{"text":["","j"],"lineHeight":13,"dx":-57,"offset":-3},
   "data":{"name":"j"},
   "encoding":{"x":{"field":"c","type":"nominal","sort":null,"scale":{"paddingInner":0,"paddingOuter":0.043},"axis":{"labelAngle":0,"title":"Cortical region"}},"color":{"field":"c","type":"nominal","sort":null,"scale":{"range":["#f49a9a","#1b9a5c","#5ca4f2"]},"legend":null}},
   "layer":[
    {"mark":{"type":"bar","filled":false,"size":27,"strokeWidth":1.6},"encoding":{"y":{"field":"q1","type":"quantitative","scale":{"domain":[0,40]},"axis":{"values":[0,10,20,30,40],"tickCount":20,"title":["Total cPcdh number","per cell"]}},"y2":{"field":"q3"}}},
    {"mark":{"type":"rule","strokeWidth":1.6},"encoding":{"y":{"field":"lo","type":"quantitative"},"y2":{"field":"q1"}}},
    {"mark":{"type":"rule","strokeWidth":1.6},"encoding":{"y":{"field":"q3","type":"quantitative"},"y2":{"field":"hi"}}},
    {"mark":{"type":"tick","size":27,"thickness":1.6},"encoding":{"y":{"field":"md","type":"quantitative"}}},
    {"mark":{"type":"tick","size":13,"thickness":1.6},"encoding":{"y":{"field":"lo","type":"quantitative"}}},
    {"mark":{"type":"tick","size":13,"thickness":1.6},"encoding":{"y":{"field":"hi","type":"quantitative"}}},
    {"data":{"values":[{}]},"mark":{"type":"rule","strokeWidth":1.2},"encoding":{"x":{"datum":"MO"},"x2":{"datum":"VIS"},"y":{"datum":39.1},"color":{"value":"#000"}}},
    {"data":{"values":[{}]},"mark":{"type":"text","fontSize":11.5,"baseline":"bottom"},"encoding":{"x":{"datum":"SS"},"y":{"datum":40.6},"text":{"value":"P = 0.1547"},"color":{"value":"#000"}}}
   ]},
  {"width":83,"height":1,"data":{"values":[]},"mark":"point"},
  {"width":120,"height":121,"title":{"text":["","k"],"lineHeight":13,"dx":-65,"offset":-10},"view":{"stroke":"#000","strokeWidth":1.2},
   "layer":[
    {"data":{"name":"kr"},"mark":{"type":"area","color":"#d6d6d6","clip":true},"encoding":{"x":{"field":"x","type":"quantitative","scale":{"domain":[-0.0115,0.263]},"axis":{"values":[0,0.05,0.1,0.15,0.2,0.25],"tickCount":20,"format":".2f","labelAngle":-40,"domain":false,"title":["Average expression of","each cPcdh isoform in SS"]}},"y":{"field":"lo","type":"quantitative","scale":{"domain":[-0.009,0.2635]},"axis":{"values":[0,0.05,0.1,0.15,0.2,0.25],"tickCount":20,"format":".2f","domain":false,"title":["Average expression of","each cPcdh isoform in VIS"]}},"y2":{"field":"hi"}}},
    {"data":{"name":"k"},"mark":{"type":"circle","size":11,"color":"#f4695a","opacity":1},"encoding":{"x":{"field":"x","type":"quantitative"},"y":{"field":"y","type":"quantitative"}}},
    {"data":{"name":"kr"},"mark":{"type":"line","color":"#3372b0","strokeWidth":1.1,"clip":true},"encoding":{"x":{"field":"x","type":"quantitative"},"y":{"field":"y","type":"quantitative"}}},
    {"data":{"values":[{}]},"mark":{"type":"text","fontSize":10,"align":"left","baseline":"middle"},"encoding":{"x":{"datum":0},"y":{"datum":0.249},"text":{"value":"R = 0.89 (P < 0.0001)"}}}
   ]},
  {"width":89,"height":1,"data":{"values":[]},"mark":"point"},
  {"width":120,"height":121,"title":{"text":["","l"],"lineHeight":13,"dx":-62,"offset":-10},"view":{"stroke":"#000","strokeWidth":1.2},
   "layer":[
    {"data":{"name":"lr"},"mark":{"type":"area","color":"#d6d6d6","clip":true},"encoding":{"x":{"field":"x","type":"quantitative","scale":{"domain":[-0.0114,0.263]},"axis":{"values":[0,0.05,0.1,0.15,0.2,0.25],"tickCount":20,"format":".2f","labelAngle":-40,"domain":false,"title":["Average expression of","each cPcdh isoform in SS"]}},"y":{"field":"lo","type":"quantitative","scale":{"domain":[-0.009,0.2635]},"axis":{"values":[0,0.05,0.1,0.15,0.2,0.25],"tickCount":20,"format":".2f","domain":false,"title":["Average expression of","each cPcdh isoform in MO"]}},"y2":{"field":"hi"}}},
    {"data":{"name":"l"},"mark":{"type":"circle","size":11,"color":"#f4695a","opacity":1},"encoding":{"x":{"field":"x","type":"quantitative"},"y":{"field":"y","type":"quantitative"}}},
    {"data":{"name":"lr"},"mark":{"type":"line","color":"#3372b0","strokeWidth":1.1,"clip":true},"encoding":{"x":{"field":"x","type":"quantitative"},"y":{"field":"y","type":"quantitative"}}},
    {"data":{"values":[{}]},"mark":{"type":"text","fontSize":10,"align":"left","baseline":"middle"},"encoding":{"x":{"datum":0},"y":{"datum":0.249},"text":{"value":"R = 0.79 (P < 0.0001)"}}}
   ]}
 ], "spacing": 0, "bounds": "flush", "resolve": {"scale": {"color": "independent"}, "legend": {"color": "independent"}}},
 {"hconcat": [
  {"width":119,"height":123,"title":{"text":"m","dx":-66,"offset":-8},"view":{"stroke":"#000","strokeWidth":1.2},
   "layer":[
    {"data":{"name":"mr"},"mark":{"type":"area","color":"#d6d6d6","clip":true},"encoding":{"x":{"field":"x","type":"quantitative","scale":{"domain":[-0.011,0.258]},"axis":{"values":[0,0.05,0.1,0.15,0.2,0.25],"tickCount":20,"format":".2f","labelAngle":-40,"domain":false,"title":["Average expression of","each cPcdh isoform in VIS"]}},"y":{"field":"lo","type":"quantitative","scale":{"domain":[-0.0147,0.2658]},"axis":{"values":[0,0.05,0.1,0.15,0.2,0.25],"tickCount":20,"format":".2f","domain":false,"title":["Average expression of","each cPcdh isoform in MO"]}},"y2":{"field":"hi"}}},
    {"data":{"name":"m"},"mark":{"type":"circle","size":11,"color":"#f4695a","opacity":1},"encoding":{"x":{"field":"x","type":"quantitative"},"y":{"field":"y","type":"quantitative"}}},
    {"data":{"name":"mr"},"mark":{"type":"line","color":"#3372b0","strokeWidth":1.1,"clip":true},"encoding":{"x":{"field":"x","type":"quantitative"},"y":{"field":"y","type":"quantitative"}}},
    {"data":{"values":[{}]},"mark":{"type":"text","fontSize":10,"align":"left","baseline":"middle"},"encoding":{"x":{"datum":-0.004},"y":{"datum":0.248},"text":{"value":"R = 0.69 (P < 0.0001)"}}}
   ]},
  {"width":81,"height":1,"data":{"values":[]},"mark":"point"},
  {"width":120,"height":123,"title":{"text":"n","dx":-60,"offset":-9},"view":{"stroke":"#000","strokeWidth":1.2},
   "layer":[
    {"data":{"name":"nr"},"mark":{"type":"area","color":"#d6d6d6","clip":true},"encoding":{"x":{"field":"x","type":"quantitative","scale":{"domain":[-0.0113,0.26]},"axis":{"values":[0,0.05,0.1,0.15,0.2,0.25],"tickCount":20,"format":".2f","labelAngle":-40,"domain":false,"title":["Average expression of","each cPcdh isoform in VIS"]}},"y":{"field":"lo","type":"quantitative","scale":{"domain":[-0.0147,0.2658]},"axis":{"values":[0,0.05,0.1,0.15,0.2,0.25],"tickCount":20,"format":".2f","domain":false,"title":["Average expression of","each cPcdh isoform in MO"]}},"y2":{"field":"hi"}}},
    {"data":{"name":"n"},"mark":{"type":"circle","size":11,"color":"#f4695a","opacity":1},"encoding":{"x":{"field":"x","type":"quantitative"},"y":{"field":"y","type":"quantitative"}}},
    {"data":{"name":"nr"},"mark":{"type":"line","color":"#3372b0","strokeWidth":1.1,"clip":true},"encoding":{"x":{"field":"x","type":"quantitative"},"y":{"field":"y","type":"quantitative"}}},
    {"data":{"values":[{}]},"mark":{"type":"text","fontSize":10,"align":"left","baseline":"middle"},"encoding":{"x":{"datum":0},"y":{"datum":0.248},"text":{"value":"R = 0.99 (P < 0.0001)"}}},
    {"data":{"values":[{}]},"mark":{"type":"text","fontSize":12.7,"baseline":"bottom"},"encoding":{"x":{"datum":0.098},"y":{"datum":0.279},"text":{"value":"Allen dataset 2"}}}
   ]},
  {"width":84,"height":1,"data":{"values":[]},"mark":"point"},
  {"width":123,"height":123,"title":{"text":"o","dx":-62,"offset":-14},
   "layer":[
    {"data":{"name":"o"},"mark":{"type":"bar","size":2.3},"encoding":{"x":{"field":"x","type":"quantitative","scale":{"domain":[0.0547,0.1224]},"axis":{"values":[0.06,0.08,0.1,0.12],"tickCount":20,"format":".2f","labelAngle":-40,"title":"Mean similarity"}},"y":{"field":"n","type":"quantitative","scale":{"domain":[0,150]},"axis":{"values":[0,50,100,150],"tickCount":20,"title":["Frequency distribution","of the mean similarity"]}},"color":{"datum":"non-Clone","scale":{"domain":["non-Clone","Clone"],"range":["#7f7f7f","#f26b6b"]},"legend":{"orient":"top","direction":"vertical","title":null,"offset":-11,"padding":0,"symbolType":"M-0.25,-1H0.25V1H-0.25Z","symbolSize":110,"labelFontSize":13,"rowPadding":3,"labelOffset":2}}}},
    {"data":{"values":[{}]},"mark":{"type":"rule","strokeWidth":1.5},"encoding":{"x":{"datum":0.1071},"y":{"datum":0},"y2":{"datum":142},"color":{"datum":"Clone"}}},
    {"data":{"values":[{}]},"mark":{"type":"rule","strokeWidth":1.2,"color":"#000"},"encoding":{"x":{"datum":0.093},"x2":{"datum":0.0967},"y":{"datum":162.6}}},
    {"data":{"values":[{}]},"mark":{"type":"rule","strokeWidth":1.2,"color":"#000"},"encoding":{"x":{"datum":0.0967},"y":{"datum":162.6},"y2":{"datum":146.3}}},
    {"data":{"values":[{}]},"mark":{"type":"rule","strokeWidth":1.2,"color":"#000"},"encoding":{"x":{"datum":0.0945},"x2":{"datum":0.0967},"y":{"datum":146.3}}},
    {"data":{"values":[{}]},"mark":{"type":"text","fontSize":11.5,"align":"left","baseline":"middle"},"encoding":{"x":{"datum":0.0985},"y":{"datum":156.5},"text":{"value":"P = 0.0020"}}}
   ]},
  {"width":87,"height":1,"data":{"values":[]},"mark":"point"},
  {"width":78,"height":122,"title":{"text":"p","dx":-64,"offset":-6},
   "data":{"name":"p"},
   "encoding":{"x":{"field":"c","type":"nominal","sort":null,"scale":{"paddingInner":0,"paddingOuter":0.114,"align":1},"axis":{"labels":false,"title":"Clone"}}},
   "layer":[
    {"mark":{"type":"bar","filled":false,"size":23,"strokeWidth":1.6},"encoding":{"y":{"field":"q1","type":"quantitative","scale":{"domain":[-0.2,0.6]},"axis":{"values":[-0.2,0,0.2,0.4,0.6],"tickCount":20,"format":".1f","title":["Pairwise similarity","per clone"]}},"y2":{"field":"q3"},"stroke":{"field":"c","type":"nominal","sort":null,"scale":{"range":["#d9a1aa","#c8b24a"]},"legend":{"orient":"right","direction":"horizontal","title":null,"offset":14,"padding":0,"symbolType":"square","symbolSize":64,"symbolStrokeWidth":1.8,"labelFontSize":12.5,"labelOffset":0,"columnPadding":5,"encoding":{"labels":{"angle":{"value":90},"dx":{"value":8},"dy":{"value":4}}}}}}},
    {"mark":{"type":"rule","strokeWidth":1.6},"encoding":{"y":{"field":"lo","type":"quantitative"},"y2":{"field":"q1"},"stroke":{"field":"c","type":"nominal","sort":null}}},
    {"mark":{"type":"rule","strokeWidth":1.6},"encoding":{"y":{"field":"q3","type":"quantitative"},"y2":{"field":"hi"},"stroke":{"field":"c","type":"nominal","sort":null}}},
    {"mark":{"type":"tick","size":23,"thickness":1.6},"encoding":{"y":{"field":"md","type":"quantitative"},"fill":{"field":"c","type":"nominal","sort":null,"scale":{"range":["#d9a1aa","#c8b24a"]},"legend":null}}},
    {"mark":{"type":"tick","size":12,"thickness":1.6},"encoding":{"y":{"field":"lo","type":"quantitative"},"fill":{"field":"c","type":"nominal","sort":null,"legend":null}}},
    {"mark":{"type":"tick","size":12,"thickness":1.6},"encoding":{"y":{"field":"hi","type":"quantitative"},"fill":{"field":"c","type":"nominal","sort":null,"legend":null}}},
    {"data":{"values":[{}]},"mark":{"type":"rule","strokeWidth":1.2,"color":"#000"},"encoding":{"x":{"datum":"Same layers"},"x2":{"datum":"Different layers"},"y":{"datum":0.587}}},
    {"data":{"values":[{}]},"mark":{"type":"text","fontSize":11.5,"baseline":"bottom","color":"#000"},"encoding":{"x":{"datum":"Same layers","bandPosition":1},"y":{"datum":0.622},"text":{"value":"P = 0.0004"}}}
   ]}
 ], "spacing": 0, "bounds": "flush", "resolve": {"scale": {"color": "independent", "stroke": "independent", "fill": "independent"}, "legend": {"color": "independent", "stroke": "independent"}}},
 {"hconcat": [
  {"width":80,"height":121,"title":{"text":["","q"],"lineHeight":11,"dx":-63,"offset":-16},
   "data":{"name":"q"},
   "encoding":{"x":{"field":"c","type":"nominal","sort":null,"scale":{"paddingInner":0,"paddingOuter":0.124},"axis":{"labels":false,"values":["Same layers"],"bandPosition":1,"title":"Random"}}},
   "layer":[
    {"mark":{"type":"bar","filled":false,"size":22,"strokeWidth":1.6},"encoding":{"y":{"field":"q1","type":"quantitative","scale":{"domain":[-0.3,0.9]},"axis":{"values":[-0.3,0,0.3,0.6,0.9],"tickCount":20,"format":".1f","title":"Pairwise similarity"}},"y2":{"field":"q3"},"stroke":{"field":"c","type":"nominal","sort":null,"scale":{"range":["#ffb366","#a6a6a6"]},"legend":{"orient":"right","direction":"horizontal","title":null,"offset":13,"padding":0,"symbolType":"square","symbolSize":64,"symbolStrokeWidth":1.8,"labelFontSize":12.5,"labelOffset":0,"columnPadding":3,"encoding":{"labels":{"angle":{"value":90},"dx":{"value":8},"dy":{"value":4}}}}}}},
    {"mark":{"type":"rule","strokeWidth":1.6},"encoding":{"y":{"field":"lo","type":"quantitative"},"y2":{"field":"q1"},"stroke":{"field":"c","type":"nominal","sort":null}}},
    {"mark":{"type":"rule","strokeWidth":1.6},"encoding":{"y":{"field":"q3","type":"quantitative"},"y2":{"field":"hi"},"stroke":{"field":"c","type":"nominal","sort":null}}},
    {"mark":{"type":"tick","size":22,"thickness":1.6},"encoding":{"y":{"field":"md","type":"quantitative"},"fill":{"field":"c","type":"nominal","sort":null,"scale":{"range":["#ffb366","#a6a6a6"]},"legend":null}}},
    {"mark":{"type":"tick","size":11,"thickness":1.6},"encoding":{"y":{"field":"lo","type":"quantitative"},"fill":{"field":"c","type":"nominal","sort":null,"legend":null}}},
    {"mark":{"type":"tick","size":11,"thickness":1.6},"encoding":{"y":{"field":"hi","type":"quantitative"},"fill":{"field":"c","type":"nominal","sort":null,"legend":null}}},
    {"data":{"values":[{}]},"mark":{"type":"rule","strokeWidth":1.2,"color":"#000"},"encoding":{"x":{"datum":"Same layers"},"x2":{"datum":"Different layers"},"y":{"datum":0.805}}},
    {"data":{"values":[{}]},"mark":{"type":"text","fontSize":11.5,"baseline":"bottom","color":"#000"},"encoding":{"x":{"datum":"Same layers","bandPosition":1},"y":{"datum":0.835},"text":{"value":"P = 0.7890"}}},
    {"data":{"values":[{}]},"mark":{"type":"text","fontSize":12.7,"baseline":"bottom","color":"#000"},"encoding":{"x":{"datum":"Same layers","bandPosition":1},"y":{"datum":1.077},"text":{"value":"Allen dataset 1"}}}
   ]},
  {"width":119,"height":1,"data":{"values":[]},"mark":"point"},
  {"width":103,"height":121,"title":{"text":["","r"],"lineHeight":11,"dx":-62,"offset":-16},
   "data":{"name":"r"},
   "encoding":{"x":{"field":"c","type":"nominal","sort":null,"scale":{"paddingInner":0,"paddingOuter":0.028},"axis":{"labels":false,"title":null}}},
   "layer":[
    {"mark":{"type":"bar","filled":false,"size":22,"strokeWidth":1.6},"encoding":{"y":{"field":"q1","type":"quantitative","scale":{"domain":[-0.3,0.9]},"axis":{"values":[-0.3,0,0.3,0.6,0.9],"tickCount":20,"format":".1f","title":"Pairwise similarity"}},"y2":{"field":"q3"},"stroke":{"field":"c","type":"nominal","sort":null,"scale":{"range":["#59a5f7","#19a055","#8f8f8f"]},"legend":{"orient":"right","direction":"horizontal","title":null,"offset":13,"padding":0,"symbolType":"square","symbolSize":64,"symbolStrokeWidth":1.8,"labelFontSize":12.5,"labelOffset":0,"columnPadding":3,"encoding":{"labels":{"angle":{"value":90},"dx":{"value":8},"dy":{"value":4}}}}}}},
    {"mark":{"type":"rule","strokeWidth":1.6},"encoding":{"y":{"field":"lo","type":"quantitative"},"y2":{"field":"q1"},"stroke":{"field":"c","type":"nominal","sort":null}}},
    {"mark":{"type":"rule","strokeWidth":1.6},"encoding":{"y":{"field":"q3","type":"quantitative"},"y2":{"field":"hi"},"stroke":{"field":"c","type":"nominal","sort":null}}},
    {"mark":{"type":"tick","size":22,"thickness":1.6},"encoding":{"y":{"field":"md","type":"quantitative"},"fill":{"field":"c","type":"nominal","sort":null,"scale":{"range":["#59a5f7","#19a055","#8f8f8f"]},"legend":null}}},
    {"mark":{"type":"tick","size":12,"thickness":1.6},"encoding":{"y":{"field":"lo","type":"quantitative"},"fill":{"field":"c","type":"nominal","sort":null,"legend":null}}},
    {"mark":{"type":"tick","size":12,"thickness":1.6},"encoding":{"y":{"field":"hi","type":"quantitative"},"fill":{"field":"c","type":"nominal","sort":null,"legend":null}}},
    {"data":{"values":[{}]},"mark":{"type":"rule","strokeWidth":1.2,"color":"#000"},"encoding":{"x":{"datum":"L2/3-L2/3"},"x2":{"datum":"L2/3-L6"},"y":{"datum":0.895}}},
    {"data":{"values":[{}]},"mark":{"type":"text","fontSize":11.5,"baseline":"bottom","color":"#000"},"encoding":{"x":{"datum":"L2/3-L5"},"y":{"datum":0.93},"text":{"value":"P = 0.3607"}}},
    {"data":{"values":[{}]},"mark":{"type":"rule","strokeWidth":1.2,"color":"#000"},"encoding":{"x":{"datum":"L2/3-L2/3"},"x2":{"datum":"L2/3-L5"},"y":{"datum":0.745}}},
    {"data":{"values":[{}]},"mark":{"type":"text","fontSize":11.5,"baseline":"bottom","color":"#000"},"encoding":{"x":{"datum":"L2/3-L2/3","bandPosition":1},"y":{"datum":0.762},"text":{"value":"P = 0.3807"}}},
    {"data":{"values":[{}]},"mark":{"type":"text","fontSize":12.7,"baseline":"bottom","color":"#000"},"encoding":{"x":{"datum":"L2/3-L5"},"y":{"datum":1.077},"text":{"value":"Allen dataset 1"}}}
   ]}
 ], "spacing": 0, "bounds": "flush", "resolve": {"scale": {"color": "independent", "stroke": "independent", "fill": "independent"}, "legend": {"color": "independent", "stroke": "independent"}}}
]
}
